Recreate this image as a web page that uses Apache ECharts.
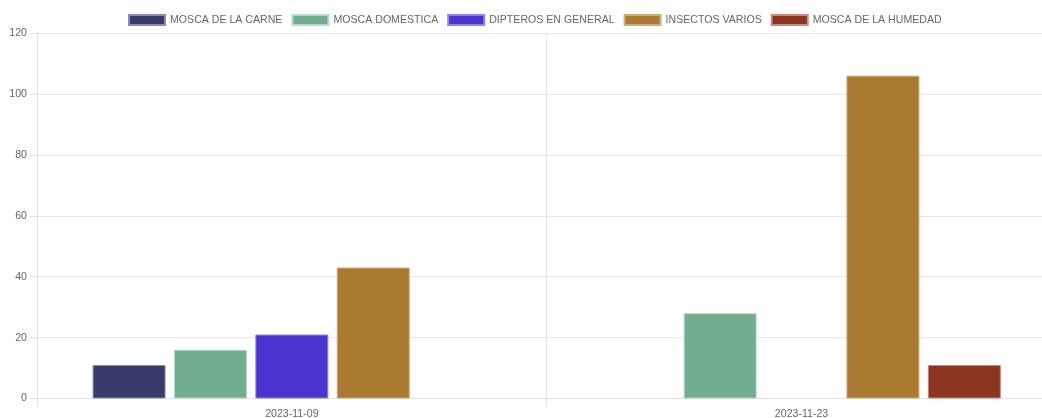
<!DOCTYPE html>
<html>
<head>
<meta charset="utf-8">
<script src="https://cdn.jsdelivr.net/npm/echarts@6/dist/echarts.min.js"></script>
<style>
html,body{margin:0;padding:0;background:#fff;overflow:hidden;}
#c{width:1042px;height:418px;}
</style>
</head>
<body>
<div id="c"></div>
<script>
const categories = ['2023-11-09', '2023-11-23'];
const seriesNames = ['MOSCA DE LA CARNE', 'MOSCA DOMESTICA', 'DIPTEROS EN GENERAL', 'INSECTOS VARIOS', 'MOSCA DE LA HUMEDAD'];
const moscaCarne = [11, null];
const moscaDomestica = [16, 28];
const dipteros = [21, null];
const insectosVarios = [43, 106];
const moscaHumedad = [null, 11];
const yTicks = [0, 20, 40, 60, 80, 100, 120];

const colors = ['#393c6b', '#72ad8f', '#4834ce', '#aa7a33', '#8b3420'];
const borders = ['#8a8cb0', '#b4dcc6', '#8e82e6', '#d0ac78', '#c98a7c'];
const values = [moscaCarne, moscaDomestica, dipteros, insectosVarios, moscaHumedad];

const font = 'Liberation Sans, Arial, Helvetica, sans-serif';
const chart = echarts.init(document.getElementById('c'), null, {renderer: 'canvas'});
chart.setOption({
  animation: false,
  backgroundColor: '#fff',
  color: colors,
  legend: {
    top: 9,
    left: 123,
    padding: 5,
    itemWidth: 36,
    itemHeight: 10,
    itemGap: 9,
    icon: 'rect',
    textStyle: {color: '#666', fontSize: 10.6, fontFamily: font},
    data: seriesNames
  },
  grid: {left: 37, width: 1019.4, top: 33, bottom: 19.5, containLabel: false, outerBoundsMode: 'none'},
  xAxis: {
    type: 'category',
    data: categories,
    boundaryGap: true,
    axisLine: {show: true, lineStyle: {color: '#e1e1e1', width: 1}},
    axisTick: {show: true, length: 7, lineStyle: {color: '#e1e1e1'}},
    splitLine: {show: true, lineStyle: {color: '#e6e6e6', width: 1}},
    axisLabel: {color: '#666', fontSize: 10.6, fontFamily: font, margin: 10}
  },
  yAxis: {
    type: 'value',
    min: yTicks[0],
    max: yTicks[yTicks.length - 1],
    interval: 20,
    axisLine: {show: true, lineStyle: {color: '#e1e1e1', width: 1}},
    axisTick: {show: true, length: 7, lineStyle: {color: '#e1e1e1'}},
    splitLine: {show: true, lineStyle: {color: '#e6e6e6', width: 1}},
    axisLabel: {color: '#666', fontSize: 10.6, fontFamily: font, margin: 10}
  },
  series: seriesNames.map((name, i) => ({
    name: name,
    type: 'bar',
    data: values[i],
    barWidth: 73,
    barGap: '11.5%',
    itemStyle: {color: colors[i], borderColor: borders[i], borderWidth: 1}
  }))
});
</script>
</body>
</html>
